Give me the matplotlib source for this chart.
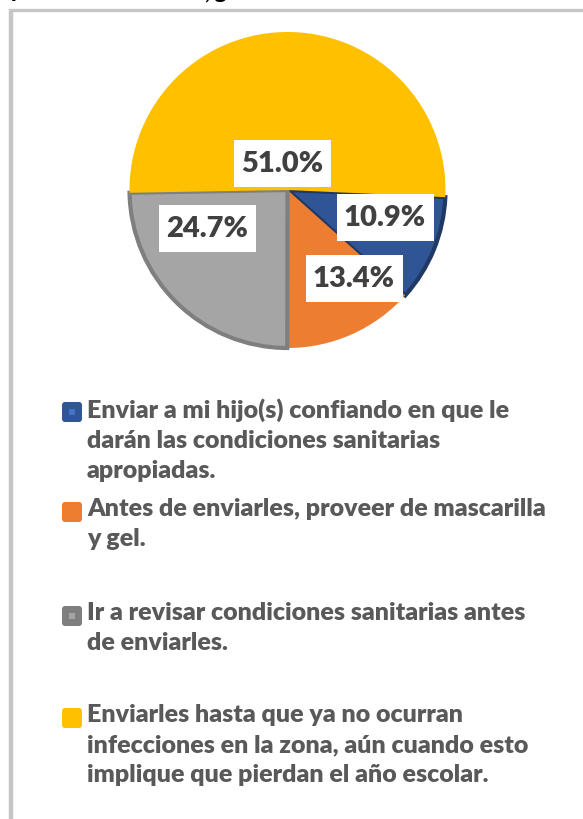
import matplotlib.pyplot as plt
from matplotlib.patches import FancyBboxPatch, Rectangle

# data
labels = [
    "Enviar a mi hijo(s) confiando en que le\ndarán las condiciones sanitarias\napropiadas.",
    "Antes de enviarles, proveer de mascarilla\ny gel.",
    "Ir a revisar condiciones sanitarias antes\nde enviarles.",
    "Enviarles hasta que ya no ocurran\ninfecciones en la zona, aún cuando esto\nimplique que pierdan el año escolar.",
]
values = [10.9, 13.4, 24.7, 51.0]
colors = ["#2f5597", "#ed7d31", "#a5a5a5", "#ffc000"]
edge_colors = ["#1f3864", None, "#7f7f7f", None]

W, H = 583, 819
plt.rcParams["font.family"] = ["Lato", "DejaVu Sans"]

fig = plt.figure(figsize=(W / 100, H / 100), dpi=100)
ax = fig.add_axes([0, 0, 1, 1])

# frame lines of the chart area
ax.plot([10.5, 10.5], [9, H], color="#c6c6c6", lw=3.2, solid_capstyle="butt")
ax.plot([9, W], [9.5, 9.5], color="#c6c6c6", lw=2.4, solid_capstyle="butt")

# cut-off title text at the very top
ax.text(11, -2, "p", fontsize=15, fontweight="heavy", color="black", va="baseline")
ax.text(205, -2, ", g", fontsize=15, fontweight="heavy", color="black", va="baseline")

# pie (y axis inverted, so angles run clockwise visually with counterclock=True)
cx, cy, r = 287.5, 190, 158
wedges, _ = ax.pie(values, colors=colors, startangle=2.6, counterclock=True,
                   center=(cx, cy), radius=r, frame=True,
                   wedgeprops=dict(linewidth=0))
ax.set_xlim(0, W)
ax.set_ylim(H, 0)
ax.axis("off")
for w, ec in zip(wedges, edge_colors):
    if ec:
        w.set_edgecolor(ec)
        w.set_linewidth(3.0)
        w.set_joinstyle("miter")

# data labels with white boxes
label_pos = [(385, 217), (354, 278), (207, 228), (282, 163)]
for v, (x, y) in zip(values, label_pos):
    ax.add_patch(Rectangle((x - 48.5, y - 23.5), 97, 47, fc="white", ec="none", zorder=3))
    ax.text(x, y + 1, f"{v:.1f}%", ha="center", va="center", fontsize=21,
            fontweight="heavy", color="#404040", zorder=4)

# legend
legend_y = [412, 512, 616, 718]
for lab, c, ec, y in zip(labels, colors, edge_colors, legend_y):
    sq_c = c if ec is None else (ec if c == "#a5a5a5" else c)
    ax.add_patch(FancyBboxPatch((64, y - 8), 16, 16,
                                boxstyle="round,pad=2,rounding_size=3",
                                fc=sq_c, ec="none"))
    if ec is not None:
        inner = "#4472c4" if c == "#2f5597" else "#a5a5a5"
        ax.add_patch(Rectangle((69, y - 3), 6, 6, fc=inner, ec="none"))
    ax.text(87, y - 14, lab, ha="left", va="top", fontsize=18,
            fontweight="heavy", color="#595959", linespacing=1.45)

fig.savefig("out.png", dpi=100)
